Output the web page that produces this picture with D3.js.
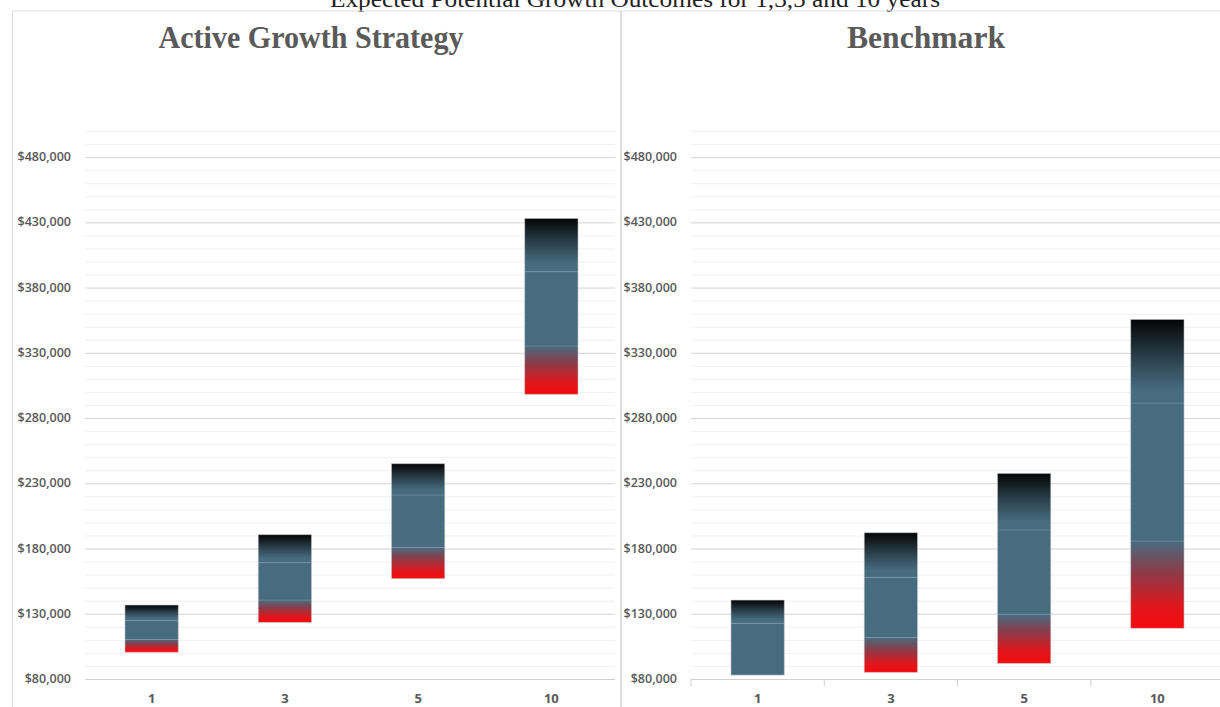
<!DOCTYPE html>
<html>
<head>
<meta charset="utf-8">
<script src="https://cdn.jsdelivr.net/npm/d3@7"></script>
<style>
    body { margin: 0; background: #fff; }
    .ylab { font-family: "Open Sans", "Liberation Sans", sans-serif; font-size: 12.5px; font-weight: 600; fill: #595959; }
    .xlab { font-family: "Open Sans", "Liberation Sans", sans-serif; font-size: 13px; font-weight: 700; fill: #595959; }
    .ptitle { font-family: "Liberation Serif", "DejaVu Serif", serif; font-weight: 700; fill: #5a5a5a; }
    .maintitle { font-family: "Liberation Serif", serif; font-size: 24px; fill: #222; }
</style>
</head>
<body>
<div id="chart"></div>
<script>

// years on the x axis
var years = ["1", "3", "5", "10"];

// Active Growth Strategy - outcome ranges (bottom edge, lower band, upper band, top edge)
var activeLow     = [100500, 123400, 156900, 298200];
var activeLowMid  = [110400, 140500, 180900, 335200];
var activeHighMid = [124700, 169100, 221000, 392100];
var activeHigh    = [136700, 190600, 245000, 433000];

// Benchmark - outcome ranges
var benchLow     = [83000, 85100, 92000, 118900];
var benchLowMid  = [83000, 111700, 129600, 185700];
var benchHighMid = [122700, 157900, 194200, 291500];
var benchHigh    = [140500, 192100, 237600, 355600];

// y tick labels
var yTicks = [80000, 130000, 180000, 230000, 280000, 330000, 380000, 430000, 480000];

var mainTitle = "Expected Potential Growth Outcomes for 1,3,5 and 10 years";

var svg = d3.select("#chart")
    .append("svg")
    .attr("width", 1220)
    .attr("height", 707);

// gradients used by the stacked segments
var defs = svg.append("defs");
var BLUE = "#476c80";

var gLow = defs.append("linearGradient").attr("id", "gradLow")
    .attr("x1", 0).attr("y1", 1).attr("x2", 0).attr("y2", 0);
gLow.append("stop").attr("offset", "0%").attr("stop-color", "#f40a0e");
gLow.append("stop").attr("offset", "25%").attr("stop-color", "#e0161c");
gLow.append("stop").attr("offset", "65%").attr("stop-color", "#8a3c4a");
gLow.append("stop").attr("offset", "100%").attr("stop-color", BLUE);

var gHigh = defs.append("linearGradient").attr("id", "gradHigh")
    .attr("x1", 0).attr("y1", 1).attr("x2", 0).attr("y2", 0);
gHigh.append("stop").attr("offset", "0%").attr("stop-color", BLUE);
gHigh.append("stop").attr("offset", "15%").attr("stop-color", BLUE);
gHigh.append("stop").attr("offset", "55%").attr("stop-color", "#2a3f4a");
gHigh.append("stop").attr("offset", "100%").attr("stop-color", "#040506");

// main title (clipped at the top of the page like the original)
svg.append("text")
    .attr("class", "maintitle")
    .attr("x", 635)
    .attr("y", 7)
    .attr("text-anchor", "middle")
    .attr("textLength", 610)
    .attr("lengthAdjust", "spacingAndGlyphs")
    .text(mainTitle);

var y = d3.scaleLinear()
    .domain([80000, 500000])
    .range([679, 131]);

var fmt = function (v) { return "$" + d3.format(",")(v); };

function drawPanel(opts) {
    var g = svg.append("g");

    // panel frame
    g.append("rect")
        .attr("x", opts.frameX).attr("y", 11)
        .attr("width", opts.frameW).attr("height", 720)
        .attr("fill", "none")
        .attr("stroke", "#dedede")
        .attr("stroke-width", 1);

    g.append("text")
        .attr("class", "ptitle")
        .attr("x", opts.titleX)
        .attr("y", 48)
        .attr("text-anchor", "middle")
        .attr("font-size", 31)
        .attr("textLength", opts.titleW)
        .attr("lengthAdjust", "spacingAndGlyphs")
        .text(opts.title);

    var x = d3.scaleBand()
        .domain(years)
        .range([opts.left, opts.left + 533])
        .paddingInner(0.6)
        .paddingOuter(0.3);

    // minor gridlines
    g.selectAll(".minor")
        .data(d3.range(90000, 500001, 10000).filter(function (d) { return (d - 80000) % 50000 != 0; }))
        .enter().append("line")
        .attr("x1", opts.left).attr("x2", opts.gridRight)
        .attr("y1", function (d) { return y(d) + 0.5; })
        .attr("y2", function (d) { return y(d) + 0.5; })
        .attr("stroke", "#f0f0f0");

    // major gridlines
    g.selectAll(".major")
        .data(yTicks.slice(1))
        .enter().append("line")
        .attr("x1", opts.left).attr("x2", opts.gridRight)
        .attr("y1", function (d) { return y(d) + 0.5; })
        .attr("y2", function (d) { return y(d) + 0.5; })
        .attr("stroke", "#d4d4d4");

    // y labels
    g.selectAll(".ylab")
        .data(yTicks)
        .enter().append("text")
        .attr("class", "ylab")
        .attr("x", opts.labelX)
        .attr("y", function (d) { return y(d) + 4; })
        .attr("text-anchor", "end")
        .text(fmt);

    // x axis
    var xAxis = g.append("g")
        .attr("transform", "translate(0," + (y(80000) + 0.5) + ")");
    xAxis.append("line")
        .attr("x1", opts.left).attr("x2", opts.gridRight)
        .attr("stroke", "#d0d0d0");
    if (opts.ticks) {
        xAxis.selectAll(".tick")
            .data(years)
            .enter().append("line")
            .attr("x1", function (d) { return x(d) - x.step() * x.paddingInner() / 2; })
            .attr("x2", function (d) { return x(d) - x.step() * x.paddingInner() / 2; })
            .attr("y1", 0).attr("y2", 7)
            .attr("stroke", "#d0d0d0");
    }
    xAxis.selectAll(".xlab")
        .data(years)
        .enter().append("text")
        .attr("class", "xlab")
        .attr("x", function (d) { return x(d) + x.bandwidth() / 2; })
        .attr("y", 23.5)
        .attr("text-anchor", "middle")
        .text(function (d) { return d; });

    // stacked bars: low gradient, solid middle, high gradient
    var rows = years.map(function (yr, i) {
        return {year: yr, a: opts.low[i], b: opts.lowMid[i], c: opts.highMid[i], d: opts.high[i]};
    });
    var segs = [
        {from: "a", to: "b", fill: "url(#gradLow)"},
        {from: "b", to: "c", fill: BLUE},
        {from: "c", to: "d", fill: "url(#gradHigh)"}
    ];
    segs.forEach(function (s) {
        g.selectAll(".seg-" + s.from)
            .data(rows.filter(function (r) { return r[s.to] > r[s.from]; }))
            .enter().append("rect")
            .attr("x", function (r) { return x(r.year); })
            .attr("width", x.bandwidth())
            .attr("y", function (r) { return y(r[s.to]); })
            .attr("height", function (r) { return y(r[s.from]) - y(r[s.to]); })
            .attr("fill", s.fill);
    });
    // thin pale dividers between segments
    g.selectAll(".divider")
        .data(rows.reduce(function (acc, r) {
            if (r.b > r.a) acc.push({year: r.year, v: r.b});
            acc.push({year: r.year, v: r.c});
            return acc;
        }, []))
        .enter().append("line")
        .attr("x1", function (d) { return x(d.year); })
        .attr("x2", function (d) { return x(d.year) + x.bandwidth(); })
        .attr("y1", function (d) { return y(d.v); })
        .attr("y2", function (d) { return y(d.v); })
        .attr("stroke", "#8fa6b3")
        .attr("stroke-opacity", 0.4);
    // outline
    g.selectAll(".outline")
        .data(rows)
        .enter().append("rect")
        .attr("x", function (r) { return x(r.year); })
        .attr("width", x.bandwidth())
        .attr("y", function (r) { return y(r.d); })
        .attr("height", function (r) { return y(r.a) - y(r.d); })
        .attr("fill", "none")
        .attr("stroke", "#c8c8c8")
        .attr("stroke-opacity", 0.7)
        .attr("stroke-width", 0.8);
}

drawPanel({
    title: "Active Growth Strategy", titleX: 311, titleW: 305,
    frameX: 12.5, frameW: 608,
    left: 85, gridRight: 615, labelX: 71, ticks: false,
    low: activeLow, lowMid: activeLowMid, highMid: activeHighMid, high: activeHigh
});

drawPanel({
    title: "Benchmark", titleX: 926, titleW: 158,
    frameX: 621.5, frameW: 620,
    left: 691, gridRight: 1220, labelX: 677, ticks: true,
    low: benchLow, lowMid: benchLowMid, highMid: benchHighMid, high: benchHigh
});

</script>
</body>
</html>
